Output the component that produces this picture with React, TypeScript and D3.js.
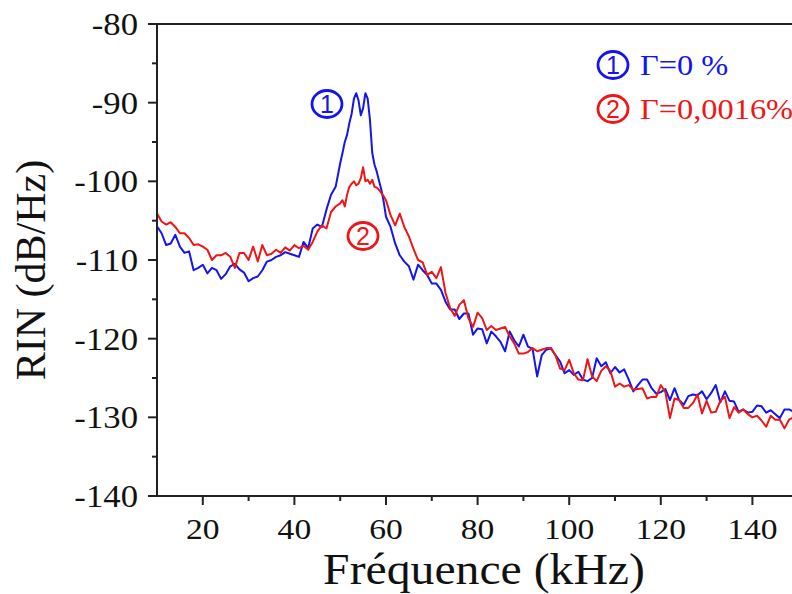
import React from 'react';
import * as d3 from 'd3';

// Frequency grid (kHz): 1 kHz steps, 0.5 kHz around the resonance
const freqs: number[] = [
  ...d3.range(10, 50, 1),
  ...d3.range(50, 60, 0.5),
  ...d3.range(60, 150, 1),
];

// Series 1 : Γ = 0 %
const rinGamma0: number[] = [
  -105.7, -106.6, -108.1, -107.9, -106.8, -108.3, -109.1, -108.9, -111.3, -111.0,
  -110.6, -111.7, -111.0, -111.3, -112.4, -111.8, -110.8, -110.5, -111.2, -111.6,
  -112.7, -112.3, -112.1, -111.3, -110.2, -110.0, -109.6, -109.4, -109.0, -109.2,
  -109.4, -109.6, -107.7, -108.5, -106.0, -105.5, -105.8, -103.6, -101.7, -100.7,
  -97.7, -96.4, -95.0, -94.1, -92.6, -91.4, -89.5, -88.8, -89.7, -91.6,
  -90.7, -88.8, -89.5, -92.2, -96.4, -97.9, -98.8, -100.0, -101.1, -102.6,
  -104.5, -105.8, -107.9, -109.4, -110.2, -110.8, -112.5, -110.6, -111.3, -111.9,
  -113.0, -113.0, -113.8, -115.3, -116.3, -116.3, -117.5, -116.8, -116.8, -119.5,
  -118.7, -118.8, -120.6, -119.1, -119.7, -120.4, -121.6, -119.1, -120.2, -121.0,
  -119.5, -121.0, -121.3, -124.8, -122.1, -121.4, -121.2, -122.1, -122.9, -124.4,
  -124.0, -124.6, -124.2, -125.2, -125.4, -125.0, -122.5, -123.5, -123.0, -124.4,
  -123.6, -124.3, -123.9, -125.2, -126.7, -125.9, -125.2, -125.2, -126.3, -127.0,
  -126.8, -126.4, -127.8, -126.3, -127.8, -128.4, -127.3, -127.1, -127.2, -126.7,
  -127.7, -126.9, -125.9, -128.1, -126.7, -127.9, -128.0, -129.3, -129.0, -129.4,
  -129.3, -128.5, -128.6, -129.4, -129.1, -129.6, -130.1, -129.0, -129.0, -129.3,
];

// Series 2 : Γ = 0,0016 %
const rinGamma16: number[] = [
  -104.1, -105.1, -105.5, -105.2, -105.8, -106.6, -106.6, -107.2, -108.1, -108.0,
  -108.3, -108.7, -110.0, -109.4, -109.4, -109.1, -109.6, -111.0, -109.1, -109.1,
  -110.0, -108.3, -110.2, -108.1, -109.4, -109.2, -108.7, -109.1, -108.4, -108.8,
  -108.1, -108.5, -108.2, -108.7, -107.7, -106.4, -105.6, -106.0, -103.9, -103.2,
  -102.8, -102.4, -103.2, -101.7, -100.7, -100.3, -100.0, -100.5, -100.3, -99.6,
  -98.2, -100.0, -99.8, -100.3, -99.8, -100.7, -100.8, -101.1, -101.5, -101.9,
  -102.4, -104.3, -105.6, -104.1, -105.8, -107.0, -108.6, -110.0, -110.3, -111.9,
  -111.5, -112.3, -110.9, -114.2, -116.1, -117.1, -115.7, -115.1, -117.4, -118.5,
  -116.7, -117.4, -118.9, -118.4, -118.9, -118.7, -118.5, -119.7, -120.6, -121.9,
  -121.9, -121.7, -121.2, -121.6, -121.4, -121.2, -121.2, -122.1, -123.8, -124.0,
  -122.7, -124.4, -125.2, -125.3, -122.6, -124.8, -125.4, -124.1, -123.5, -124.1,
  -126.1, -125.7, -126.1, -125.9, -126.5, -126.4, -126.3, -127.6, -127.4, -127.4,
  -125.9, -126.8, -130.1, -127.6, -127.8, -128.8, -128.8, -128.2, -127.1, -129.5,
  -127.9, -129.4, -129.3, -127.9, -127.4, -130.1, -128.7, -129.4, -129.0, -129.6,
  -130.0, -129.8, -130.4, -131.2, -129.8, -130.3, -130.3, -131.4, -130.3, -130.0,
];

const xMajorTicks = [20, 40, 60, 80, 100, 120, 140];
const xMinorTicks = [30, 50, 70, 90, 110, 130, 150];
const yMajorTicks = [-140, -130, -120, -110, -100, -90, -80];
const yMinorTicks = [-135, -125, -115, -105, -95, -85];

const legendLabels = ['Γ=0 %', 'Γ=0,0016%'];
const seriesNumbers = ['1', '2'];
const xTitle = 'Fréquence (kHz)';
const yTitle = 'RIN (dB/Hz)';

const BLUE = '#1414ec';
const RED = '#ee1616';
const AXIS = '#222';
const SERIF = '"Liberation Serif", "Times New Roman", serif';
const SANS = '"Liberation Sans", Arial, sans-serif';

export default function App() {
  const W = 792, H = 594;
  const x = d3.scaleLinear().domain([10, 150]).range([157, 798.2]);
  const y = d3.scaleLinear().domain([-140, -80]).range([496, 24]);
  const line = d3.line<number>()
    .x((_, i) => x(freqs[i]))
    .y((d) => y(d));

  const series = [
    { values: rinGamma0, color: BLUE },
    { values: rinGamma16, color: RED },
  ];

  const circled = (cx: number, cy: number, n: string, color: string) => (
    <g>
      <ellipse cx={cx} cy={cy} rx={15} ry={13.5} fill="none" stroke={color} strokeWidth={2.8} />
      <text x={cx} y={cy + 9} textAnchor="middle" fontFamily={SANS} fontSize={25} fill={color}>{n}</text>
    </g>
  );

  return (
    <div style={{ position: 'absolute', left: 0, top: 0, width: W, height: H, background: '#fff' }}>
      <svg width={W} height={H} viewBox={`0 0 ${W} ${H}`} style={{ display: 'block' }}>
        <rect x={0} y={0} width={W} height={H} fill="#fff" />
        <defs>
          <clipPath id="plotClip">
            <rect x={x(10)} y={y(-80)} width={x(150) - x(10)} height={y(-140) - y(-80)} />
          </clipPath>
        </defs>

        {/* data lines */}
        <g clipPath="url(#plotClip)">
          {series.map((s, k) => (
            <path key={k} d={line(s.values) || ''} fill="none" stroke={s.color} strokeWidth={2} strokeLinejoin="round" />
          ))}
        </g>

        {/* frame */}
        <line x1={x(10)} x2={W} y1={y(-80)} y2={y(-80)} stroke={AXIS} strokeWidth={2} />
        <line x1={x(10)} x2={W} y1={y(-140)} y2={y(-140)} stroke={AXIS} strokeWidth={2} />
        <line x1={x(10)} x2={x(10)} y1={y(-80)} y2={y(-140) + 1} stroke={AXIS} strokeWidth={2} />

        {/* x ticks */}
        {xMajorTicks.map((t) => (
          <g key={'xM' + t}>
            <line x1={x(t)} x2={x(t)} y1={y(-140)} y2={y(-140) + 9} stroke={AXIS} strokeWidth={2} />
            <text transform={`translate(${x(t)},539) scale(1.12,1)`} textAnchor="middle" fontFamily={SERIF} fontSize={30} fill="#111">{t}</text>
          </g>
        ))}
        {xMinorTicks.map((t) => (
          <line key={'xm' + t} x1={x(t)} x2={x(t)} y1={y(-140)} y2={y(-140) + 5} stroke={AXIS} strokeWidth={2} />
        ))}

        {/* y ticks */}
        {yMajorTicks.map((t) => (
          <g key={'yM' + t}>
            <line x1={x(10) - 9} x2={x(10)} y1={y(t)} y2={y(t)} stroke={AXIS} strokeWidth={2} />
            <text transform={`translate(138,${y(t) + 11}) scale(1.12,1)`} textAnchor="end" fontFamily={SERIF} fontSize={31} fill="#111">{t}</text>
          </g>
        ))}
        {yMinorTicks.map((t) => (
          <line key={'ym' + t} x1={x(10) - 5} x2={x(10)} y1={y(t)} y2={y(t)} stroke={AXIS} strokeWidth={2} />
        ))}

        {/* axis titles */}
        <text transform="translate(484,584) scale(1.06,1)" textAnchor="middle" fontFamily={SERIF} fontSize={45} fill="#111">{xTitle}</text>
        <text transform="translate(45,270) rotate(-90)" textAnchor="middle" fontFamily={SERIF} fontSize={42} fill="#111">{yTitle}</text>

        {/* inline annotations */}
        {circled(327, 104, seriesNumbers[0], BLUE)}
        {circled(363, 236, seriesNumbers[1], RED)}

        {/* legend */}
        {circled(613, 65, seriesNumbers[0], BLUE)}
        <text transform="translate(640,75) scale(1.08,1)" fontFamily={SERIF} fontSize={30} fill={BLUE}>{legendLabels[0]}</text>
        {circled(613, 109, seriesNumbers[1], RED)}
        <text transform="translate(640,119) scale(1.08,1)" fontFamily={SERIF} fontSize={30} fill={RED}>{legendLabels[1]}</text>
      </svg>
    </div>
  );
}
